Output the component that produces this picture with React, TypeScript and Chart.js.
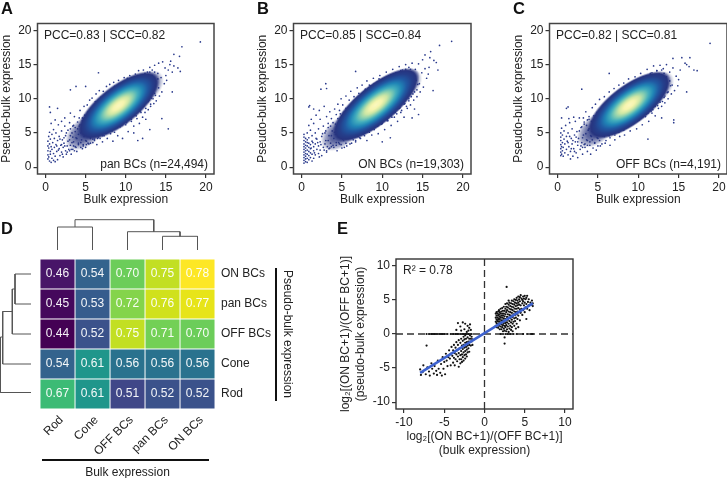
import React, { useEffect, useRef } from "react";
import { Chart, registerables } from "chart.js";
Chart.register(...registerables);

const FONT = "'Liberation Sans', Arial, sans-serif";

// Scatter dots, flat x,y lists
const cloudA = [19.3,18.3,17,17.6,16,16.5,16.7,16.2,15.6,15.5,15.5,15,16,14.8,16.5,14.5,15.3,14.2,16.8,14,15.8,13.9,6.6,13.8,3.1,11.3,3.8,11.8,5,11.8,0.5,8.8,0.6,8,1.5,8.6,15.8,11,14.5,7.1,15.3,5.6,11.5,3.9,12.1,4.2,11,5,13,5.5,
0.3,1.2,0.3,1.8,0.3,2.4,0.3,3.1,0.3,3.8,0.4,4.5,0.4,1.5,0.4,2.8,0.5,0.9,0.5,3.4,0.5,5.1,0.6,1.9,0.6,2.3,0.6,4.1,0.7,0.7,0.7,3,0.7,6.4,0.8,1.3,0.8,2.6,0.8,4.8,0.9,3.6,1,1,1,2,1,5.5,1.1,2.9,1.1,4.2,1.2,0.8,1.2,1.6,1.3,3.3,1.3,5,1.4,2.3,1.5,1.1,1.5,3.9,1.6,6.2,1.7,2.7,1.7,4.5,1.8,1.7,1.9,3.2,2,2.2,2,5.3,2.1,4,2.2,1.5,2.2,2.9,2.3,3.5,2.4,6,2.5,2.4,2.5,4.6,2.6,1.9,2.7,3.1,2.8,5.4,2.9,2.6,3,4,3,6.5,3.1,3.2,3.2,1.9,3.3,5,3.4,2.6,3.5,3.7,3.5,6.1,3.6,7.4,3.7,3,3.8,4.3,3.9,2.3,4,5.6,4.1,3.5,4.2,7.2,4.3,8.3,4.4,2.9,4.5,4,4.6,6.8,4.7,3.3,4.8,8.9,4.9,7.6,5,2.9,5.1,3.8,5.2,9.1,5.3,8.1,5.4,3.4,5.5,9.8,5.6,4.2,5.7,7.9,5.8,10.1,5.9,3.6,6,8.9,6.1,4.1,6.2,9.6,6.3,10.7,6.4,3.3,6.5,4.6,6.6,9.1,6.7,11.2,6.8,4.2,6.9,10.2,7,5,7.1,3.7,7.2,11.1,7.3,4.6,7.4,9.9,7.5,5.3,7.6,11.8,7.7,4.2,7.8,10.9,7.9,5.6,8,12.1,8.1,4.9,8.2,11.3,8.3,5.5,8.4,3.8,8.5,12.4,8.6,5.1,8.8,11.7,9,4.6,9.1,12.7,9.3,5.9,9.5,12.1,9.6,4.2,9.8,13.1,10,6.2,10.2,12.7,10.3,5.2,10.5,13.4,10.7,6.7,10.9,13,11,6,11.2,13.6,11.4,7.1,11.6,14.1,11.7,6.4,11.9,13.3,12.1,7.3,12.2,14.2,12.4,8,12.5,7,12.7,13.9,12.8,8.4,13,14.6,13.1,8.9,13.3,14.2,13.5,9.3,13.6,14.9,13.8,9.7,14,13.7,14.1,15.2,14.2,10.4,14.4,13.1,14.5,11,14.6,15.4,14.8,12.2,15,13.4,15.1,12.7,14.9,14.5,13.2,10.1,13.6,10.8,12.9,9.8,12.3,9,11.8,8.2,11.1,7.6,10.6,7.2,10.1,6.8,9.6,6.4,9.1,6,8.6,5.7,8.1,5.4,7.6,5,7.1,4.7,6.6,4.4,6.1,3.9,5.6,3.5,5.1,3.3,4.6,2.7,6.2,8.2,5.7,8.6,5.2,7.7,4.7,7.1,7.1,9.4,7.6,10.3,8.1,10.9,8.6,11.8,9.2,12.2,9.7,12.5,10.2,13,3.1,7.9,2.4,7.2,2,6.7,1.2,6.9];
const edgeA = [3.1,5.6,3.2,2.6,3.4,6,3.5,3.1,3.7,5.8,3.8,2.9,4,6.6,4.1,3.3,4.3,6.2,4.4,3.6,4.6,7.2,4.7,3.1,4.9,6.9,5,3.9,5.2,7.7,5.3,3.5,5.5,7.2,5.6,4.4,5.8,8.3,5.9,4.1,6.1,7.9,6.2,4.9,6.4,8.8,6.5,4.2,6.7,8.5,6.8,5.2,7,9.5,7.1,4.6,7.3,9,7.4,5.6,7.6,10,7.7,5.1,7.9,9.6,8,6,8.2,10.6,8.3,5.3,8.5,10.2,8.6,6.3,8.8,11,8.9,5.8,9.1,10.8,9.2,6.7,9.4,11.6,9.5,6.1,9.7,11.2,9.8,7,10,12.1,10.1,6.5,10.3,11.8,10.4,7.4,10.6,12.5,10.7,7,10.9,12.2,11,7.9,11.2,13,11.3,7.5,11.5,12.6,11.6,8.3,11.8,13.4,11.9,8,12.1,13,12.2,8.9,12.4,13.7,12.5,8.6,12.7,13.2,12.8,9.6,13,13.9,13.1,9.2,13.3,13.4,13.4,10,13.6,13.9,13.7,10.5,14,12.9,14.1,11.6,
1.4,3.1,1.6,2.5,1.8,4.1,2,3.3,2.1,1.9,2.3,4.3,2.4,3.1,2.6,5,2.7,2.2,2.8,3.8,3,2.4,3.1,4.6,3.3,3.6,3.4,4.4,3.6,2.4,3.7,5.2,3.9,4.2,4.1,4.8,4.2,6,4.4,5,4.6,5.6,4.8,4.5,5,6.1,5.2,5,5.4,6.6,5.6,5.5,5.8,7,6,6.4,6.3,7.4,6.6,6.8];
const cloudB = [18.6,18.4,17.1,17.8,16,16.9,15.3,16.4,15.9,16,16.4,15.6,15,15.7,16.7,15.3,16.9,14.2,15.8,14.6,6.7,14,3,12.2,2.4,11.4,3.1,11.5,1,9,0.9,8.8,1.5,8.5,16.3,11.2,14.5,7.7,14,8.5,13.7,7.2,11,4.3,10,3.7,
0.3,0.6,0.3,1,0.3,1.4,0.3,1.8,0.3,2.2,0.3,2.6,0.3,3,0.3,3.4,0.3,3.9,0.3,4.4,0.3,4.8,0.5,0.8,0.5,1.2,0.5,1.6,0.5,2,0.5,2.4,0.5,2.8,0.5,3.2,0.5,3.7,0.5,4.2,0.7,0.7,0.7,1.3,0.7,1.9,0.7,2.5,0.7,3.1,0.7,3.6,0.7,4,0.7,5,0.9,1.1,0.9,1.7,0.9,2.3,0.9,2.9,0.9,3.5,0.9,4.3,0.9,6.1,1.1,1.4,1.1,2.1,1.1,2.7,1.1,3.3,1.1,5.4,1.3,0.9,1.3,1.9,1.3,3.8,1.3,4.6,1.5,1.3,1.5,2.4,1.5,3,1.5,6.4,1.7,1.8,1.7,3.4,1.7,5,1.9,2.6,1.9,4.1,2.1,2,2.1,3.1,2.1,5.6,2.3,2.5,2.3,3.7,2.3,7,2.5,1.7,2.5,4.5,2.7,2.9,2.7,6,2.9,3.4,2.9,5,3.1,2.4,3.1,7.4,3.3,3.9,3.3,6.4,3.5,2.8,3.5,8.1,3.7,4.6,3.7,7.1,3.9,3.2,4.1,8.5,4.1,5.1,4.3,3.6,4.3,7.7,4.5,9.2,4.7,3.4,4.7,8.3,4.9,10,5.1,4.1,5.1,9.1,5.3,2.9,5.5,8.6,5.5,10.4,5.7,4.4,5.9,9.8,6,3.4,6.1,11.1,6.3,4.7,6.5,10.3,6.7,3.7,6.9,5.2,6.9,11.6,7.1,10.8,7.3,4.2,7.5,12,7.7,4.9,7.9,11.2,8.1,3.9,8.1,12.6,8.3,5.5,8.5,11.9,8.7,4.7,8.9,13,9.1,5.8,9.3,12.4,9.5,4.9,9.7,13.4,9.9,6.3,10.1,12.8,10.3,5.5,10.5,13.9,10.7,6.8,10.9,13.3,11.1,6.1,11.3,14.3,11.5,7.3,11.7,13.8,11.9,6.7,12.1,14.7,12.3,8,12.5,14.2,12.7,7.3,12.9,15,13.1,8.6,13.3,14.6,13.5,9.1,13.7,15.2,13.9,9.8,14.1,14.3,14.3,10.3,14.5,15.1,14.7,11,14.9,13.8,15.1,11.7,15.3,14.4,15.5,13,15.7,13.6,14.6,12.2,14.3,11.3,13.8,10.7,13.3,10,12.8,9.3,12.2,8.7,11.6,8,11.1,7.5,10.6,7,10,6.6,9.5,6.1,9,5.5,8.4,5.1,7.8,4.6,7.2,4.3,6.7,3.9,6.2,3.5,5.6,3.1,5,2.8,4.4,2.4,4.8,7.8,5.2,8,5.9,8.8,6.4,9.4,6.9,10,7.4,10.6,7.9,11.4,8.4,12,9,12.2,9.6,12.9,2.2,8.3,2.8,8.9,1.8,7.6,1.2,7];
const edgeB = [3,5.3,3.1,2.2,3.3,5.8,3.4,2.7,3.6,6,3.7,3,3.9,6.5,4,2.9,4.2,6.3,4.3,3.2,4.5,7.1,4.6,3.6,4.8,6.9,4.9,3.3,5.1,7.6,5.2,3.9,5.4,7.3,5.5,3.5,5.7,8.2,5.8,4.2,6,7.9,6.1,4.5,6.3,8.9,6.4,4,6.6,8.4,6.7,4.9,6.9,9.4,7,4.5,7.2,9.1,7.3,5.3,7.5,10.1,7.6,4.9,7.8,9.7,7.9,5.7,8.1,10.7,8.2,5.2,8.4,10.3,8.5,6.1,8.7,11.2,8.8,5.6,9,10.9,9.1,6.5,9.3,11.8,9.4,6,9.6,11.4,9.7,6.9,9.9,12.3,10,6.4,10.2,11.9,10.3,7.3,10.5,12.8,10.6,6.8,10.8,12.4,10.9,7.7,11.1,13.3,11.2,7.3,11.4,12.9,11.5,8.1,11.7,13.7,11.8,7.8,12,13.2,12.1,8.6,12.3,14.1,12.4,8.3,12.6,13.6,12.7,9.2,12.9,14.3,13,8.9,13.2,13.8,13.3,9.7,13.5,14.3,13.6,10.3,13.9,13.4,14,11,14.2,12.7,14.4,12.1,
1.2,2.8,1.4,3.6,1.6,2.1,1.8,4.2,2,3.6,2.2,1.5,2.4,3.3,2.6,4.9,2.8,2.5,3,3.9,3.2,3,3.4,4.6,3.6,3.5,3.8,5.3,4,4.2,4.2,4.8,4.4,5.6,4.6,4.9,4.8,5.9,5,5.2,5.2,6.4,5.4,5.7,5.6,6.9,5.8,6.1,6,7.2,6.2,6.6];
const cloudC = [18.9,18.1,14.3,15.9,15.4,16,16.4,16,15.8,15.2,16,15,16.3,14.7,16.9,14.2,17.3,14.1,6.4,13.7,3,11.4,1.1,8.6,1.3,8.8,0.5,7.2,16,11,14.4,6.5,14.4,6.9,11.2,4.1,12.9,7.2,
0.4,1.7,0.4,2.2,0.4,2.7,0.4,3.3,0.4,3.9,0.4,4.4,0.4,5,0.5,1.9,0.5,3,0.5,5.7,0.6,2.4,0.6,3.6,0.6,4.7,0.7,1.6,0.7,2.9,0.8,4.1,0.8,5.3,0.9,2.1,0.9,3.4,1,6.1,1.1,2.6,1.1,4.5,1.2,3.8,1.3,1.8,1.3,5,1.4,3,1.5,6.5,1.6,1.2,1.6,2.3,1.7,4.2,1.8,3.4,1.8,5.6,1.9,1.6,2,2.7,2.1,4.7,2.2,3.7,2.2,6.7,2.3,2.1,2.4,5.2,2.5,1.4,2.5,3.2,2.6,4.2,2.7,7.2,2.8,2.6,2.9,5.8,3,3.6,3.1,1.9,3.2,4.7,3.3,6.6,3.4,2.9,3.5,8.1,3.6,4,3.7,2.3,3.8,5.4,3.9,7.4,4,3.2,4.1,1.9,4.2,4.5,4.3,8.7,4.4,2.8,4.5,6.4,4.6,3.6,4.7,9.2,4.8,2.5,4.9,8,5,4.2,5.2,9.9,5.3,3.1,5.5,8.7,5.6,4.6,5.8,10.3,5.9,3.5,6.1,9.4,6.2,4.8,6.4,11,6.5,3.2,6.7,10.1,6.8,5.2,7,11.5,7.1,4,7.3,10.7,7.4,5.6,7.6,12,7.7,4.5,7.9,11,8,5.8,8.2,12.3,8.3,4.7,8.5,11.7,8.6,6,8.8,12.9,9,5.3,9.2,12.2,9.4,6.4,9.6,13.2,9.8,5.6,10,12.7,10.1,6.9,10.3,13.7,10.5,6.2,10.7,13.2,10.9,7.4,11.1,14.3,11.3,6.7,11.5,13.7,11.7,7.9,11.9,14.8,12.1,7.5,12.3,14.1,12.5,8.6,12.7,14.9,12.9,8.9,13.1,14.4,13.3,9.4,13.5,15,13.7,10,13.9,13.9,14.1,10.7,14.3,14.5,14.5,11.2,14.7,13.3,14.9,11.9,15,12.8,15.2,14.2,14.2,12,13.7,11,13.2,10.2,12.7,9.5,12.1,8.9,11.6,8.2,11,7.8,10.4,7.3,9.9,6.8,9.3,6.4,8.8,6,8.2,5.4,7.6,5.1,7.1,4.7,6.5,4.3,6,3.9,5.5,3.4,5,3.1,4.6,5.9,5,7.1,5.5,7.5,6,8.3,6.5,8.9,7,9.6,7.5,10.3,8.1,10.9,8.7,11.4,9.3,11.9,3.2,7.2,3.7,6.9,2,7.3,1.4,7.1];
const edgeC = [3,5.9,3.1,2.9,3.3,6.3,3.4,3.4,3.6,6.1,3.7,3.2,3.9,7,4,3.7,4.2,6.7,4.3,4,4.5,7.5,4.6,3.5,4.8,7.2,4.9,4.3,5.1,8.1,5.2,3.9,5.4,7.6,5.5,4.8,5.7,8.7,5.8,4.5,6,8.3,6.1,5.3,6.3,9.2,6.4,4.6,6.6,8.9,6.7,5.6,6.9,9.9,7,5,7.2,9.4,7.3,6,7.5,10.4,7.6,5.5,7.8,10,7.9,6.4,8.1,11,8.2,5.7,8.4,10.6,8.5,6.7,8.7,11.4,8.8,6.2,9,11.2,9.1,7.1,9.3,12,9.4,6.5,9.6,11.6,9.7,7.4,9.9,12.5,10,6.9,10.2,12.2,10.3,7.8,10.5,12.9,10.6,7.4,10.8,12.6,10.9,8.3,11.1,13.4,11.2,7.9,11.4,13,11.5,8.7,11.7,13.8,11.8,8.4,12,13.4,12.1,9.3,12.3,14.1,12.4,9,12.6,13.6,12.7,10,12.9,14.2,13,9.6,13.2,13.7,13.3,10.4,13.5,13.2,13.6,10.9,13.9,12.6,14,11.9,
1.3,3.6,1.5,4.5,1.7,2.7,1.9,3.9,2.1,2.3,2.3,4.4,2.5,3.7,2.7,5.3,2.9,3.1,3.1,4.3,3.3,3.3,3.5,4.9,3.7,3.9,3.9,5.6,4.1,4.6,4.3,5.2,4.5,6,4.7,5.2,4.9,6.3,5.1,5.7,5.3,6.8,5.5,6.1,5.7,7.2,5.9,6.7];
const cloudE = [-8,-5.2,-7.9,-6,-7.7,-5.6,-7.6,-4.6,-7.3,-5.9,-7.2,-1.7,-7.1,-4.9,-6.9,-5.5,-6.8,-6.1,-6.6,-4.3,-6.5,-5.1,-6.3,-5.8,-6.2,-4.7,-6,-5.4,-5.9,-6,-5.8,-3.9,-5.7,-5.1,-5.5,-5.7,-5.4,-4.4,-5.3,-6.1,-5.2,-3.4,-5.1,-5.1,-5,-4.1,-4.9,-5.9,-4.8,-2.9,-4.7,-3.9,-4.6,-4.7,-4.5,-3.4,-4.4,-2.4,-4.3,-3.6,-4.2,-4.6,-4.2,-2.9,-4.1,-1.9,-4,-3.2,-3.9,-4.2,-3.9,-2.4,-3.8,-3.5,-3.8,-1.6,-3.7,-2.8,-3.7,-4.6,-3.6,-2,-3.6,-3.7,-3.5,-3,-3.5,-1.2,-3.4,-4,-3.4,-2.4,-3.3,-3.3,-3.3,-1.6,-3.2,-4.8,-3.2,-2.8,-3.2,-0.9,-3.1,-3.7,-3.1,-2.1,-3,-3.1,-3,-1.3,-3,-4.3,-2.9,-2.5,-2.9,-3.7,-2.9,-0.7,-2.8,-1.7,-2.8,-3,-2.8,-4.1,-2.7,-2.2,-2.7,-1,-2.7,-3.4,-2.6,-0.4,-2.6,-2.7,-2.6,-1.6,-2.6,-3.9,-2.5,-2,-2.5,-3.1,-2.5,-0.8,-2.4,-2.5,-2.4,-1.3,-2.4,-3.6,-2.4,-0.2,-2.3,-1.9,-2.3,-3,-2.3,-0.7,-2.2,-2.3,-2.2,-1.2,-2.2,-3.3,-2.2,0.3,-2.1,-1.7,-2.1,-0.5,-2.1,-2.7,-2,-1.1,-2,-2.1,-2,0.5,-1.9,-0.7,-1.9,-1.6,-1.9,-2.6,-1.9,0.9,-1.8,-1.1,-1.8,-0.2,-1.7,-1.7,-1.7,-0.7,-1.7,0.6,-1.6,-1.1,-1.6,-0.4,-1.5,-1.6,-1.5,-0.8,-3.3,1.6,-3,1.1,-2.7,1.7,-2.4,1.5,-2.1,1.2,-1.8,1.4,-3.5,0.6,-2.9,0.5,-2.5,0.7,
-7.2,0,-6.9,0,-6.6,0,-6.4,0,-6.2,0,-6,0,-5.8,0,-5.6,0,-5.4,0,-5.2,0,-5,0,-4.6,0,-4.2,0,-3.9,0,-3.6,0,-3.4,0,-3.2,0,-3,0,-2.8,0,-2.6,0,-2.4,0,-2.2,0,-2,0,-1.8,0,-1.6,0,2,0,2.3,0,2.6,0,2.9,0,3.2,0,3.6,0,4,0,4.8,0,5.3,0,5.8,0,6,0,
1.4,1.2,1.4,1.8,1.4,2.4,1.4,3,1.5,1,1.5,1.6,1.5,2.1,1.5,2.7,1.5,3.2,1.6,1.3,1.6,1.9,1.6,2.4,1.6,3,1.7,0.9,1.7,1.5,1.7,2.1,1.7,2.7,1.7,3.3,1.8,1.2,1.8,1.8,1.8,2.3,1.8,2.9,1.8,3.5,1.9,0.7,1.9,1.5,1.9,2.1,1.9,2.6,1.9,3.2,2,1.1,2,1.7,2,2.4,2,3,2,3.7,2.1,0.7,2.1,1.4,2.1,2,2.1,2.7,2.1,3.3,2.2,1,2.2,1.7,2.2,2.4,2.2,3,2.2,3.8,2.3,0.4,2.3,1.3,2.3,2,2.3,2.7,2.3,3.4,2.4,0.8,2.4,1.6,2.4,2.3,2.4,3,2.4,4,2.5,-1.4,2.5,-0.5,2.5,0.5,2.5,1.2,2.5,1.9,2.5,2.6,2.5,3.4,2.6,1,2.6,1.6,2.6,2.2,2.6,2.9,2.6,3.7,2.6,4.4,2.75,6.9,2.7,0.4,2.7,1.3,2.7,2,2.7,3.2,2.7,4,2.8,0.7,2.8,1.7,2.8,2.5,2.8,3.5,2.8,4.5,2.9,1.1,2.9,2.1,2.9,2.9,2.9,3.9,3,0.3,3,1.5,3,2.4,3,3.3,3,4.3,3,4.9,3.1,0.8,3.1,1.9,3.1,2.8,3.1,3.7,3.1,4.6,3.2,1.2,3.2,2.3,3.2,3.2,3.2,4.1,3.3,0.6,3.3,1.7,3.3,2.7,3.3,3.6,3.3,4.5,3.4,1,3.4,2.1,3.4,3.1,3.4,4,3.4,4.9,3.5,0.4,3.5,1.5,3.5,2.5,3.5,3.5,3.5,4.4,3.6,1.8,3.6,2.9,3.6,3.9,3.6,4.8,3.7,1.2,3.7,2.3,3.7,3.3,3.7,4.3,3.7,5.1,3.8,1.9,3.8,2.8,3.8,3.7,3.8,4.6,3.9,0.8,3.9,2.4,3.9,3.2,3.9,4.1,3.9,5,4,1.5,4,2.9,4,3.7,4,4.5,4,5.3,4.1,2.2,4.1,3.3,4.1,4.2,4.1,4.9,4.2,1,4.2,2.7,4.2,3.8,4.2,4.6,4.2,5.5,4.3,3.2,4.3,4.3,4.3,5.1,4.4,2,4.4,3.6,4.4,4.8,4.4,5.4,4.5,3.1,4.5,4.2,4.5,5.7,4.6,3.7,4.6,5.2,4.7,2.8,4.7,4.5,4.7,5,4.8,3.5,4.8,4.8,4.8,5.5,4.9,4.2,4.9,5.2,5,3.2,5,4.6,5,5.6,5.1,3.9,5.1,5.1,5.2,2.2,5.2,4.4,5.2,5.3,5.3,3.7,5.3,5.6,5.4,4.7,5.5,4.2,5.5,5.1,5.6,3.5,5.7,4.6,5.8,4.3,5.9,4.9,6,4.5,6,4.1];

// Density core positions, one per panel, plus the dense lower and upper tails
const coreA = [{ x: 9.1, y: 9 }];
const coreB = [{ x: 9.2, y: 9.1 }];
const coreC = [{ x: 8.9, y: 9.1 }];
const tailA = [{ x: 5, y: 5.2 }, { x: 12.2, y: 11.4 }];
const tailB = [{ x: 4.9, y: 5.1 }, { x: 12.4, y: 11.7 }];
const tailC = [{ x: 4.9, y: 5.6 }, { x: 11.9, y: 11.3 }];

const axisTicks = [0, 5, 10, 15, 20];
const axisTicksE = [-10, -5, 0, 5, 10];

// Regression line and zero reference lines of panel E
const fitLine = [{ x: -8, y: -5.7 }, { x: 6, y: 4.5 }];
const zeroV = [{ x: 0, y: -11 }, { x: 0, y: 11 }];
const zeroH = [{ x: -11, y: 0 }, { x: 11, y: 0 }];

// Heatmap
const heatRows = ["ON BCs", "pan BCs", "OFF BCs", "Cone", "Rod"];
const heatCols = ["Rod", "Cone", "OFF BCs", "pan BCs", "ON BCs"];
const heatValues = [
  ["0.46", "0.54", "0.70", "0.75", "0.78"],
  ["0.45", "0.53", "0.72", "0.76", "0.77"],
  ["0.44", "0.52", "0.75", "0.71", "0.70"],
  ["0.54", "0.61", "0.56", "0.56", "0.56"],
  ["0.67", "0.61", "0.51", "0.52", "0.52"],
];
const heatColors: Record<string, string> = {
  "0.44": "#440154", "0.45": "#45085c", "0.46": "#481568", "0.51": "#404788", "0.52": "#3b528b", "0.53": "#365c8d",
  "0.54": "#33638d", "0.56": "#2a728e", "0.61": "#1f968b", "0.67": "#3cbb75", "0.70": "#6ccd5a", "0.71": "#73d056",
  "0.72": "#84d44b", "0.75": "#c2df23", "0.76": "#d0e11c", "0.77": "#e7e419", "0.78": "#fde725",
};

// Dendrograms: polylines in column / row units and merge height
const topDendro = [
  [[0.5, 0], [0.5, 23], [1.5, 23], [1.5, 0]],
  [[3.5, 0], [3.5, 13.7], [4.5, 13.7], [4.5, 0]],
  [[2.5, 0], [2.5, 18.3], [4, 18.3], [4, 13.7]],
  [[1, 23], [1, 30.3], [3.25, 30.3], [3.25, 18.3]],
];
const leftDendro = [
  [[2, 0.5], [18, 0.5], [18, 1.5], [2, 1.5]],
  [[18, 1], [20.7, 1], [20.7, 2.5], [2, 2.5]],
  [[20.7, 1.75], [30.3, 1.75], [30.3, 3.5], [2, 3.5]],
  [[30.3, 2.6], [32.5, 2.6], [32.5, 4.45], [2, 4.45]],
];

const pairs = (flat: number[]) => {
  const out: { x: number; y: number }[] = [];
  for (let i = 0; i < flat.length; i += 2) out.push({ x: flat[i], y: flat[i + 1] });
  return out;
};
const xy = (list: number[][]) => list.map(([x, y]) => ({ x, y }));

const CORE_STOPS: [number, string][] = [
  [0, "#fbf8c0"], [0.13, "#f7f5ae"], [0.25, "#cde7a6"], [0.35, "#8bd0b0"], [0.46, "#43aebd"],
  [0.58, "#2085b6"], [0.7, "#2059a3"], [0.82, "#253f8b"], [0.92, "#27347f"], [1, "rgba(39,52,127,0)"],
];
const TAIL_STOPS: [number, string][] = [
  [0, "rgba(39,60,140,0.9)"], [0.5, "rgba(39,52,127,0.75)"], [0.8, "rgba(39,52,127,0.4)"], [1, "rgba(39,52,127,0)"],
];

function makeCore(major: number, minor: number, deg: number, stops: [number, string][]) {
  const c = document.createElement("canvas");
  c.width = c.height = major * 2 + 2;
  const g = c.getContext("2d")!;
  g.translate(major + 1, major + 1);
  g.rotate((-deg * Math.PI) / 180);
  g.scale(1, minor / major);
  const grad = g.createRadialGradient(0, 0, 0, 0, 0, major);
  stops.forEach(([o, col]) => grad.addColorStop(o, col));
  g.fillStyle = grad;
  g.beginPath();
  g.arc(0, 0, major, 0, Math.PI * 2);
  g.fill();
  return c;
}

const framePlugin = {
  id: "frame",
  afterDatasetsDraw(chart: any, _a: any, opts: any) {
    if (!opts || !opts.color) return;
    const { left, top, width, height } = chart.chartArea;
    const c = chart.ctx;
    c.save();
    c.strokeStyle = opts.color;
    c.lineWidth = opts.width;
    c.strokeRect(left, top, width, height);
    c.restore();
  },
};

const cellText = {
  id: "cellText",
  afterDatasetsDraw(chart: any, _a: any, opts: any) {
    if (!opts || !opts.on) return;
    const c = chart.ctx;
    c.save();
    c.fillStyle = "rgba(255,255,255,0.95)";
    c.font = `12px ${FONT}`;
    c.textAlign = "center";
    c.textBaseline = "middle";
    chart.data.datasets.forEach((_d: any, j: number) => {
      chart.getDatasetMeta(j).data.forEach((el: any, i: number) => {
        const p = el.getCenterPoint();
        c.fillText(heatValues[i][j], p.x, p.y);
      });
    });
    c.restore();
  },
};

const TICK = "#222";
const tickFont = { family: FONT, size: 12 };
const titleFont = { family: FONT, size: 12, lineHeight: 1.17 };

function linearAxis(ticks: number[], min: number, max: number, size: number, prop: "width" | "height", title: any, lineHeight = 1.17) {
  return {
    type: "linear",
    min,
    max,
    afterBuildTicks: (s: any) => { s.ticks = ticks.map((value) => ({ value })); },
    afterFit: (s: any) => { s[prop] = size; },
    ticks: { color: TICK, font: tickFont, padding: 2, maxRotation: 0, autoSkip: false, callback: (v: any) => String(v) },
    grid: { display: true, drawOnChartArea: false, drawTicks: true, tickLength: 4, color: "#333", lineWidth: 1.2 },
    border: { display: false },
    title: { display: true, text: title, color: TICK, font: { ...titleFont, lineHeight }, padding: { top: 0, bottom: 0 } },
  };
}

function densityConfig(core: any[], tail: any[], cloud: number[], edge: number[], sprite: HTMLCanvasElement, tailSprite: HTMLCanvasElement) {
  return {
    type: "scatter",
    data: {
      datasets: [
        { data: core, pointStyle: sprite, pointRadius: 3 },
        { data: tail, pointStyle: tailSprite, pointRadius: 3 },
        { data: pairs(cloud), backgroundColor: "#2a3a8c", pointRadius: 0.85, pointBorderWidth: 0 },
        { data: pairs(edge), backgroundColor: "#2a3a8c", pointRadius: 0.85, pointBorderWidth: 0 },
      ],
    },
    options: {
      responsive: false, animation: false, devicePixelRatio: 1, events: [],
      layout: { padding: { top: 23.5, right: 10, left: 0, bottom: 0 } },
      plugins: { legend: { display: false }, tooltip: { enabled: false }, frame: { color: "#444", width: 1.5 } },
      scales: {
        x: linearAxis(axisTicks, -1, 21, 33, "height", "Bulk expression"),
        y: linearAxis(axisTicks, -1, 21, 37.5, "width", "Pseudo-bulk expression"),
      },
    },
  };
}

function dendroConfig(segs: number[][][], xScale: any, yScale: any) {
  return {
    type: "scatter",
    data: {
      datasets: segs.map((s) => ({
        data: xy(s), showLine: true, pointRadius: 0, borderColor: "#555", borderWidth: 1, clip: false, tension: 0,
      })),
    },
    options: {
      responsive: false, animation: false, devicePixelRatio: 1, events: [],
      plugins: { legend: { display: false }, tooltip: { enabled: false } },
      scales: { x: { display: false, ...xScale }, y: { display: false, ...yScale } },
    },
  };
}

const heatConfig = () => ({
  type: "bar",
  data: {
    labels: heatRows,
    datasets: heatCols.map((col, j) => ({
      label: col,
      data: heatRows.map(() => 1),
      backgroundColor: heatRows.map((_r, i) => heatColors[heatValues[i][j]]),
      borderColor: "#fff",
      borderWidth: 0.8,
      borderSkipped: false,
      barPercentage: 1,
      categoryPercentage: 1,
    })),
  },
  options: {
    indexAxis: "y",
    responsive: false, animation: false, devicePixelRatio: 1, events: [],
    layout: { padding: { top: 30, left: 30, right: 0, bottom: 0 } },
    plugins: { legend: { display: false }, tooltip: { enabled: false }, cellText: { on: true } },
    scales: {
      x: {
        type: "linear", stacked: true, min: 0, max: 5,
        afterBuildTicks: (s: any) => { s.ticks = heatCols.map((_c, i) => ({ value: i + 0.5 })); },
        afterFit: (s: any) => { s.height = 71; },
        ticks: {
          color: TICK, font: tickFont, padding: 4, minRotation: 45, maxRotation: 45, autoSkip: false, labelOffset: 4,
          callback: (v: any) => heatCols[Math.floor(v)],
        },
        grid: { display: false, drawTicks: false },
        border: { display: false },
        title: { display: true, text: "Bulk expression", color: TICK, font: titleFont, padding: { top: 0, bottom: 0 } },
      },
      y: {
        type: "category", stacked: true, position: "right",
        afterFit: (s: any) => { s.width = 85; },
        ticks: { color: TICK, font: tickFont, padding: 6, autoSkip: false },
        grid: { display: false, drawTicks: false },
        border: { display: false },
        title: { display: true, text: "Pseudo-bulk expression", color: TICK, font: titleFont, padding: { top: 6, bottom: 6 } },
      },
    },
  },
});

const scatterEConfig = () => ({
  type: "scatter",
  data: {
    datasets: [
      { data: fitLine, showLine: true, pointRadius: 0, borderColor: "#3d62cf", borderWidth: 2.6 },
      { data: pairs(cloudE), backgroundColor: "#111", pointRadius: 1.1, pointBorderWidth: 0 },
      { data: zeroV, showLine: true, pointRadius: 0, borderColor: "#333", borderWidth: 1.3, borderDash: [7, 4] },
      { data: zeroH, showLine: true, pointRadius: 0, borderColor: "#333", borderWidth: 1.3, borderDash: [7, 4] },
    ],
  },
  options: {
    responsive: false, animation: false, devicePixelRatio: 1, events: [],
    layout: { padding: { top: 10, right: 10, left: 0, bottom: 0 } },
    plugins: { legend: { display: false }, tooltip: { enabled: false }, frame: { color: "#333", width: 1.4 } },
    scales: {
      x: linearAxis(axisTicksE, -11, 11, 49, "height", ["log₂[(ON BC+1)/(OFF BC+1)]", "(bulk expression)"]),
      y: linearAxis(axisTicksE, -11, 11, 58, "width", ["log₂[(ON BC+1)/(OFF BC+1)]", "(pseudo-bulk expression)"], 1.25),
    },
  },
});

const textStyle: React.CSSProperties = { position: "absolute", font: `12px ${FONT}`, color: "#222", whiteSpace: "nowrap", lineHeight: "14px" };
const letterStyle: React.CSSProperties = { position: "absolute", font: `bold 16.5px ${FONT}`, color: "#111", lineHeight: "16px" };

const canvases = [
  { left: 0, top: 0, width: 224, height: 207 },
  { left: 256, top: 0, width: 225, height: 207 },
  { left: 512, top: 0, width: 225, height: 207 },
  { left: 40, top: 215, width: 175, height: 35 },
  { left: 0, top: 259, width: 33, height: 150 },
  { left: 10, top: 229, width: 290, height: 251 },
  { left: 338, top: 249, width: 245, height: 209 },
];

export default function App() {
  const refs = useRef<(HTMLCanvasElement | null)[]>([]);
  useEffect(() => {
    Chart.register(framePlugin, cellText);
    const tail = () => makeCore(24, 14, 40, TAIL_STOPS);
    const configs: any[] = [
      densityConfig(coreA, tailA, cloudA, edgeA, makeCore(50, 20, 38, CORE_STOPS), tail()),
      densityConfig(coreB, tailB, cloudB, edgeB, makeCore(54, 20, 39, CORE_STOPS), tail()),
      densityConfig(coreC, tailC, cloudC, edgeC, makeCore(50, 20, 37, CORE_STOPS), tail()),
      dendroConfig(topDendro, { type: "linear", min: 0, max: 5 }, { type: "linear", min: 0, max: 35 }),
      dendroConfig(leftDendro, { type: "linear", min: 0, max: 33, reverse: true }, { type: "linear", min: 0, max: 5, reverse: true }),
      heatConfig(),
      scatterEConfig(),
    ];
    const charts = configs.map((cfg, i) => new Chart(refs.current[i]!, cfg));
    return () => charts.forEach((c) => c.destroy());
  }, []);

  return (
    <div style={{ position: "absolute", left: 0, top: 0, width: 727, height: 478, overflow: "hidden", background: "#fff" }}>
      {canvases.map((c, i) => (
        <canvas
          key={i}
          ref={(el) => { refs.current[i] = el; }}
          width={c.width}
          height={c.height}
          style={{ position: "absolute", left: c.left, top: c.top, width: c.width, height: c.height }}
        />
      ))}
      <div style={{ ...letterStyle, left: 1, top: 0 }}>A</div>
      <div style={{ ...letterStyle, left: 257, top: 0 }}>B</div>
      <div style={{ ...letterStyle, left: 513, top: 0 }}>C</div>
      <div style={{ ...letterStyle, left: 1, top: 220 }}>D</div>
      <div style={{ ...letterStyle, left: 337, top: 220 }}>E</div>
      <div style={{ ...textStyle, left: 44, top: 28 }}>PCC=0.83 | SCC=0.82</div>
      <div style={{ ...textStyle, left: 300, top: 28 }}>PCC=0.85 | SCC=0.84</div>
      <div style={{ ...textStyle, left: 556, top: 28 }}>PCC=0.82 | SCC=0.81</div>
      <div style={{ ...textStyle, right: 727 - 208, top: 157 }}>pan BCs (n=24,494)</div>
      <div style={{ ...textStyle, right: 727 - 464, top: 157 }}>ON BCs (n=19,303)</div>
      <div style={{ ...textStyle, right: 727 - 721, top: 157 }}>OFF BCs (n=4,191)</div>
      <div style={{ ...textStyle, left: 403, top: 263 }}>R² = 0.78</div>
      <div style={{ position: "absolute", left: 42, top: 459, width: 167, height: 2, background: "#111" }} />
      <div style={{ position: "absolute", left: 275, top: 268, width: 2, height: 133, background: "#111" }} />
    </div>
  );
}
